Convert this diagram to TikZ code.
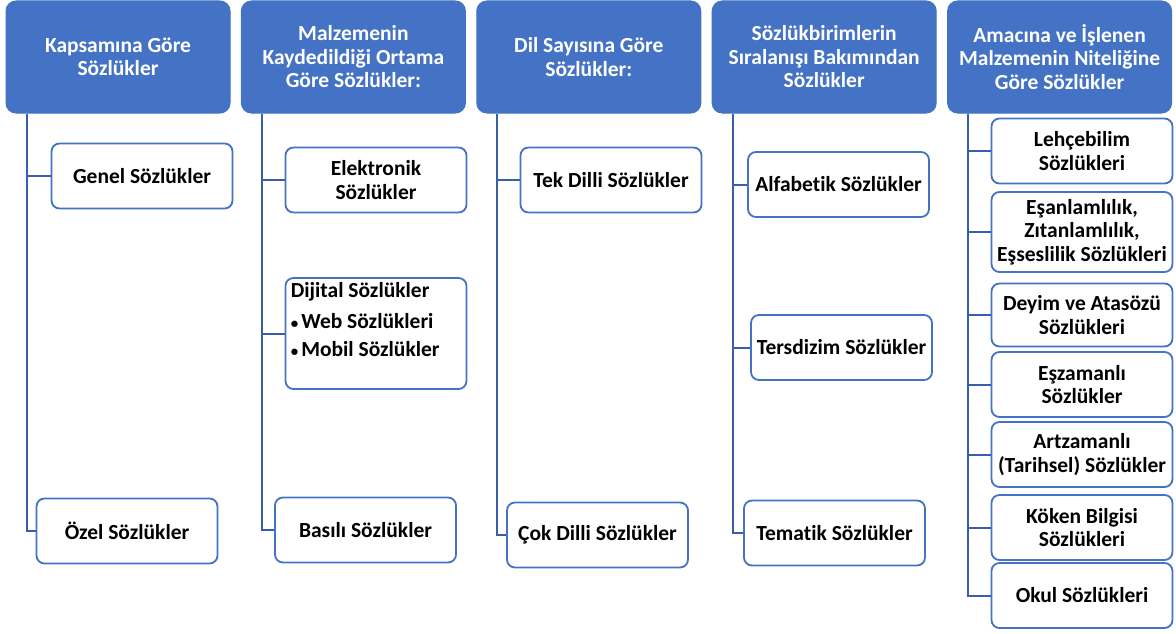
\documentclass[tikz,border=0pt]{standalone}
\usepackage{fontspec}
\setmainfont{Carlito}[BoldFont={Carlito Bold},Ligatures=NoCommon]
\usetikzlibrary{positioning}
\definecolor{headblue}{HTML}{4472C4}
\definecolor{linkblue}{HTML}{3A5FAA}
\newcommand{\smallbullet}{{\fontsize{15}{15}\selectfont•}\hspace{3pt}}

\begin{document}
\begin{tikzpicture}[x=1pt,y=-1pt,
  head/.style={draw=headblue,fill=headblue,rounded corners=10pt,line width=1pt,
    minimum width=224pt,minimum height=112pt,text width=205pt,align=flush center,
    text=white,font=\bfseries\fontsize{21.5}{23.5}\selectfont},
  item/.style={draw=headblue,fill=white,rounded corners=8pt,line width=1.8pt,
    minimum width=181pt,minimum height=65pt,text width=176pt,align=flush center,
    inner sep=1pt,font=\bfseries\fontsize{21.5}{23.5}\selectfont},
  link/.style={draw=linkblue,line width=2pt}]
    \useasboundingbox (0,0) rectangle (1176,634);

    % column heads
    \node (kapsam_head) [head] at (118,57) {Kapsamına Göre\\Sözlükler};
    \node (malzeme_head) [head,right=10.4pt of kapsam_head] {Malzemenin\\Kaydedildiği Ortama\\Göre Sözlükler:};
    \node (dil_head) [head,right=10.4pt of malzeme_head] {Dil Sayısına Göre\\Sözlükler:};
    \node (sira_head) [head,right=10.4pt of dil_head] {Sözlükbirimlerin\\Sıralanışı Bakımından\\Sözlükler};
    \node (amac_head) [head,right=10.4pt of sira_head] {Amacına ve İşlenen\\Malzemenin Niteliğine\\Göre Sözlükler};

    % trunks
    \coordinate (kapsam_trunk) at ([xshift=21pt]kapsam_head.south west);
    \coordinate (malzeme_trunk) at ([xshift=21pt]malzeme_head.south west);
    \coordinate (dil_trunk) at ([xshift=21pt]dil_head.south west);
    \coordinate (sira_trunk) at ([xshift=21pt]sira_head.south west);
    \coordinate (amac_trunk) at ([xshift=21pt]amac_head.south west);

    % Kapsamina gore
    \node (genel_item) [item] at (142,176) {Genel Sözlükler};
    \node (ozel_item) [item] at (127,531) {Özel Sözlükler};

    % Malzemenin kaydedildigi ortama gore
    \node (elektronik_item) [item] at (376,180) {Elektronik\\Sözlükler};
    \node (dijital_item)
      [item,minimum height=111pt,
        label={[anchor=north west,align=left,inner sep=0pt,xshift=6pt,yshift=-5pt,
          font=\bfseries\fontsize{21.5}{23.5}\selectfont]north west:Dijital Sözlükler\\[8pt]
          \smallbullet Web Sözlükleri\\[4pt]
          \smallbullet Mobil Sözlükler}
      ] at (376,333.5) {};
    \node (basili_item) [item] at (365.5,530) {Basılı Sözlükler};

    % Dil sayisina gore
    \node (tek_item) [item] at (611,180) {Tek Dilli Sözlükler};
    \node (cok_item) [item] at (597.5,535) {Çok Dilli Sözlükler};

    % Siralanis bakimindan
    \node (alfabetik_item) [item] at (838.5,184.5) {Alfabetik Sözlükler};
    \node (tersdizim_item) [item] at (841.5,347.5) {Tersdizim Sözlükler};
    \node (tematik_item) [item] at (834.5,533) {Tematik Sözlükler};

    % Amacina ve islenen malzemenin niteligine gore
    \node (lehce_item) [item] at (1082,151) {Lehçebilim\\Sözlükleri};
    \node (esanlam_item) [item,minimum height=80pt] at (1082,232) {Eşanlamlılık,\\Zıtanlamlılık,\\Eşseslilik Sözlükleri};
    \node (deyim_item) [item,minimum height=63pt] at (1082,315) {Deyim ve Atasözü\\Sözlükleri};
    \node (eszaman_item) [item] at (1082,384.5) {Eşzamanlı\\Sözlükler};
    \node (artzaman_item) [item] at (1082,454.5) {Artzamanlı\\(Tarihsel) Sözlükler};
    \node (koken_item) [item] at (1082,527.5) {Köken Bilgisi\\Sözlükleri};
    \node (okul_item) [item] at (1082,595.5) {Okul Sözlükleri};

    % connectors
    \foreach \child in {genel,ozel}
      \draw [link] (kapsam_trunk) |- (\child_item.west);
    \foreach \child in {elektronik,dijital,basili}
      \draw [link] (malzeme_trunk) |- (\child_item.west);
    \foreach \child in {tek,cok}
      \draw [link] (dil_trunk) |- (\child_item.west);
    \foreach \child in {alfabetik,tersdizim,tematik}
      \draw [link] (sira_trunk) |- (\child_item.west);
    \foreach \child in {lehce,esanlam,deyim,eszaman,artzaman,koken,okul}
      \draw [link] (amac_trunk) |- (\child_item.west);
  \end{tikzpicture}
\end{document}
